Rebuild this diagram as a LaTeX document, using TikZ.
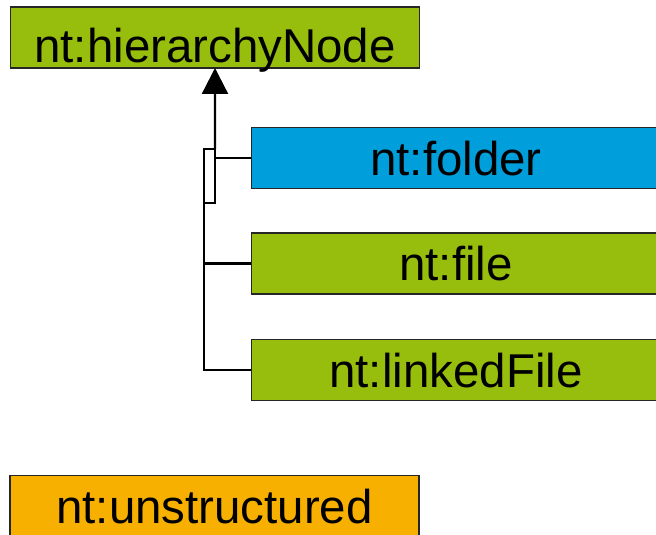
\documentclass[tikz,border=0pt]{standalone}
\usepackage{fontspec}
\setmainfont{Liberation Sans}
\usetikzlibrary{arrows.meta}
\definecolor{ntgreen}{RGB}{151,189,13}
\definecolor{ntblue}{RGB}{0,158,219}
\definecolor{ntorange}{RGB}{248,176,0}

\begin{document}
\begin{tikzpicture}[
    type box/.style={draw=black!85, line width=1pt, minimum width=8.18cm, inner sep=0pt,
        outer sep=0pt, text height=0.96cm, text depth=0.26cm, font=\fontsize{27}{32}\selectfont},
    tree line/.style={line width=1.3pt},
    jump box/.style={draw, fill=white, line width=0.9pt, minimum width=0.22cm,
        minimum height=1.08cm, inner sep=0pt, outer sep=0pt},
    every node/.style={color=black}
    ]

    \useasboundingbox (0,0) rectangle (13.12,10.7);
    % node types
    \node[type box, fill=ntgreen, text height=1.12cm, text depth=0.1cm] (hier) at (4.30,9.95) {nt:hierarchyNode};
    \node[type box, fill=ntblue] (folder) at (9.12,7.54) {nt:folder};
    \node[type box, fill=ntgreen] (file) at (9.12,5.43) {nt:file};
    \node[type box, fill=ntgreen] (linked) at (9.12,3.30) {nt:linkedFile};
    \node[type box, fill=ntorange] (unstr) at (4.29,0.58) {nt:unstructured};
    % line jump
    \node[jump box] (jump) at (4.19,7.18) {};
    % inheritance
    \draw[tree line, -{Triangle[width=0.52cm, length=0.52cm]}] (jump.north east) -- (hier.south);
    \draw[tree line] (folder.west) -- (folder.west -| jump.east);
    \draw[tree line] (jump.south west) |- (file.west);
    \draw[tree line] (jump.south west) |- (linked.west);
\end{tikzpicture}
\end{document}
